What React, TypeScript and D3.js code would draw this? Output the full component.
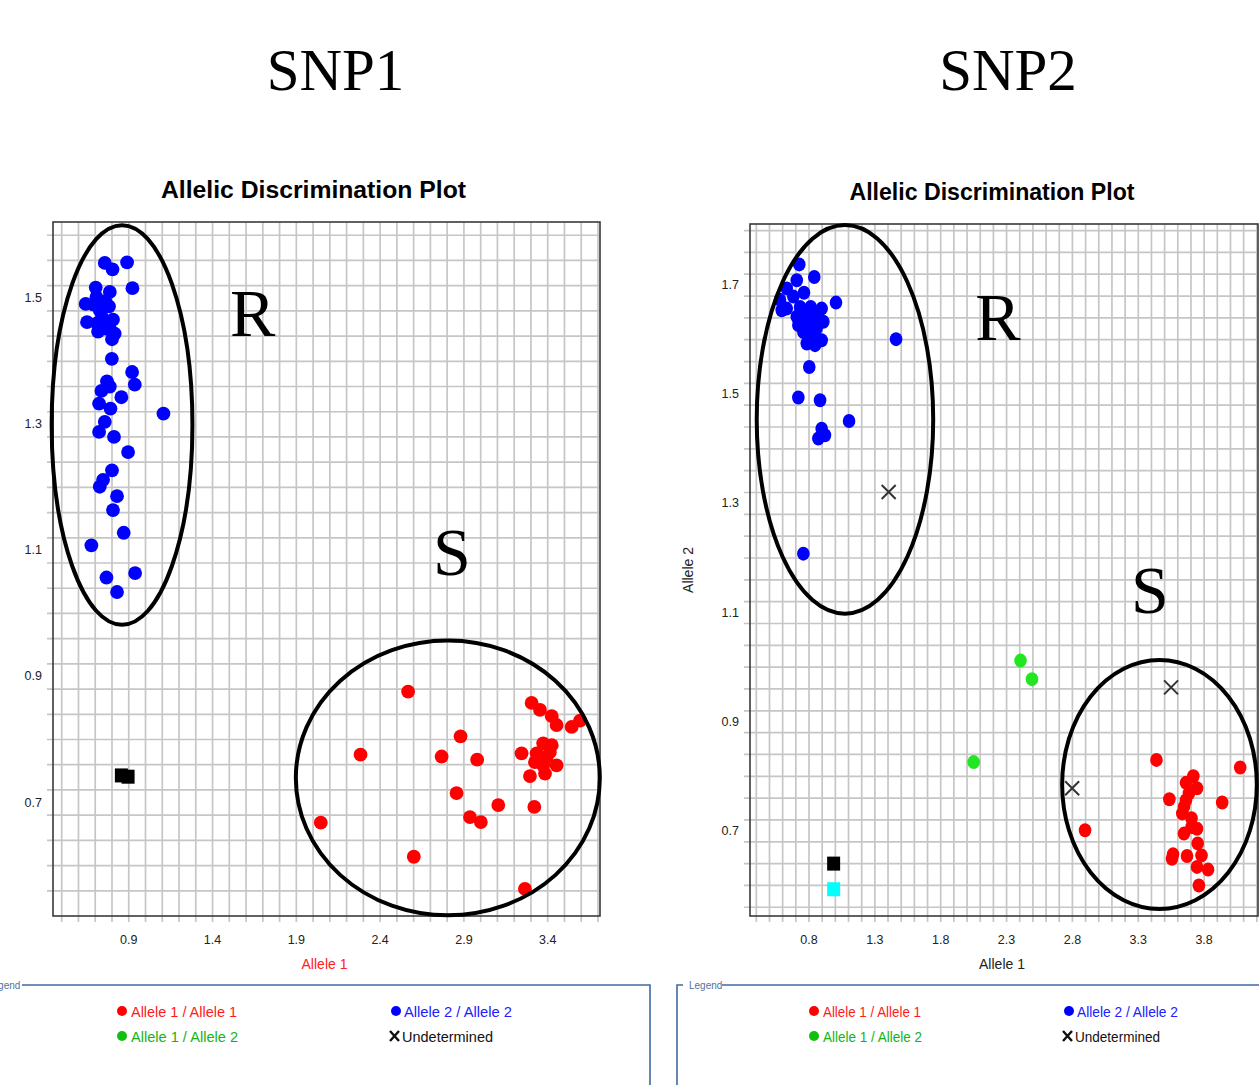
import * as d3 from "d3";

// ---- SNP1 readings (Allele 1, Allele 2) ----
const snp1Hom2: [number, number][] = [
  [0.757, 1.556], [0.803, 1.546], [0.89, 1.557], [0.922, 1.516], [0.703, 1.517],
  [0.787, 1.51], [0.643, 1.491], [0.707, 1.502], [0.782, 1.487], [0.727, 1.481],
  [0.651, 1.462], [0.806, 1.466], [0.717, 1.447], [0.763, 1.452], [0.816, 1.444],
  [0.8, 1.435], [0.747, 1.46], [0.69, 1.49], [0.76, 1.495], [0.74, 1.47],
  [0.79, 1.45], [0.71, 1.46], [0.799, 1.404], [0.92, 1.383], [0.936, 1.363],
  [0.77, 1.368], [0.737, 1.353], [0.787, 1.36], [0.856, 1.343], [0.723, 1.333],
  [0.791, 1.325], [1.107, 1.317], [0.757, 1.304], [0.723, 1.288], [0.812, 1.28],
  [0.896, 1.256], [0.8, 1.227], [0.747, 1.212], [0.727, 1.201], [0.83, 1.186],
  [0.806, 1.164], [0.87, 1.128], [0.677, 1.108], [0.767, 1.057], [0.83, 1.034],
  [0.938, 1.064],
];
const snp1Hom1: [number, number][] = [
  [2.567, 0.876], [2.283, 0.776], [2.046, 0.668], [2.601, 0.614], [2.88, 0.805],
  [2.767, 0.773], [2.979, 0.768], [2.856, 0.715], [2.936, 0.677], [3.001, 0.669],
  [3.105, 0.696], [3.32, 0.693], [3.264, 0.563], [3.304, 0.858], [3.354, 0.847],
  [3.424, 0.837], [3.453, 0.823], [3.543, 0.82], [3.593, 0.83], [3.244, 0.778],
  [3.373, 0.794], [3.424, 0.791], [3.334, 0.778], [3.394, 0.772], [3.324, 0.764],
  [3.373, 0.759], [3.453, 0.759], [3.294, 0.742], [3.384, 0.746], [3.413, 0.78],
];
const snp1Het: [number, number][] = [];
const snp1Undet: [number, number][] = [];
const snp1Ntc: [number, number][] = [[0.856, 0.743], [0.896, 0.741]];
const snp1Blank: [number, number][] = [];

// ---- SNP2 readings ----
const snp2Hom2: [number, number][] = [
  [0.726, 1.738], [0.84, 1.715], [0.707, 1.709], [0.631, 1.694], [0.58, 1.673],
  [0.762, 1.686], [0.681, 1.679], [0.593, 1.654], [0.631, 1.657], [1.005, 1.668],
  [0.732, 1.66], [0.813, 1.66], [0.896, 1.657], [0.707, 1.642], [0.77, 1.648],
  [0.846, 1.642], [0.909, 1.633], [0.719, 1.627], [0.795, 1.63], [0.858, 1.621],
  [0.757, 1.614], [0.821, 1.611], [0.896, 1.599], [0.783, 1.593], [0.846, 1.59],
  [1.461, 1.601], [0.802, 1.55], [0.719, 1.494], [0.884, 1.489], [1.104, 1.451],
  [0.896, 1.437], [0.921, 1.425], [0.871, 1.419], [0.757, 1.208],
];
const snp2Hom1: [number, number][] = [
  [3.438, 0.83], [4.074, 0.816], [2.896, 0.701], [3.536, 0.758], [3.937, 0.752],
  [3.718, 0.8], [3.662, 0.788], [3.746, 0.778], [3.685, 0.769], [3.662, 0.756],
  [3.647, 0.744], [3.634, 0.732], [3.704, 0.723], [3.746, 0.704], [3.647, 0.695],
  [3.751, 0.677], [3.704, 0.707], [3.564, 0.657], [3.556, 0.649], [3.67, 0.654],
  [3.78, 0.655], [3.746, 0.634], [3.83, 0.629], [3.76, 0.6],
];
const snp2Het: [number, number][] = [[2.406, 1.012], [2.493, 0.978], [2.05, 0.826]];
const snp2Undet: [number, number][] = [[1.405, 1.321], [3.549, 0.963], [2.798, 0.778]];
const snp2Ntc: [number, number][] = [[0.987, 0.64]];
const snp2Blank: [number, number][] = [[0.987, 0.593]];

// cluster rings drawn by hand on the figure (data units)
const snp1Rings = [
  { label: "R", cx: 0.86, cy: 1.299, rx: 0.42, ry: 0.317, lx: 1.64, ly: 1.44 },
  { label: "S", cx: 2.804, cy: 0.739, rx: 0.907, ry: 0.218, lx: 2.828, ly: 1.061 },
];
const snp2Rings = [
  { label: "R", cx: 1.073, cy: 1.454, rx: 0.67, ry: 0.356, lx: 2.235, ly: 1.599 },
  { label: "S", cx: 3.461, cy: 0.785, rx: 0.739, ry: 0.228, lx: 3.389, ly: 1.099 },
];

const snp1XLabels = ["0.9", "1.4", "1.9", "2.4", "2.9", "3.4"];
const snp1YLabels = ["0.7", "0.9", "1.1", "1.3", "1.5"];
const snp2XLabels = ["0.8", "1.3", "1.8", "2.3", "2.8", "3.3", "3.8"];
const snp2YLabels = ["0.7", "0.9", "1.1", "1.3", "1.5", "1.7"];

const legendItems = ["Allele 1 / Allele 1", "Allele 1 / Allele 2", "Allele 2 / Allele 2", "Undetermined"];

const SANS = "'Liberation Sans', Arial, sans-serif";
const SERIF = "'Liberation Serif', 'Times New Roman', serif";
const RED = "#ff0000";
const BLUE = "#0000ff";
const GREEN = "#22e622";

const steps = (a: number, b: number, s: number) =>
  d3.range(Math.round(a / s), Math.round(b / s) + 1).map((k) => +(k * s).toFixed(3));

type Pt = [number, number];

function Plot(props: {
  box: { x0: number; x1: number; y0: number; y1: number };
  xDomain: [number, number];
  yDomain: [number, number];
  xMinor: [number, number];
  yMinor: [number, number];
  xLabels: string[];
  yLabels: string[];
  hom1: Pt[]; hom2: Pt[]; het: Pt[]; undet: Pt[]; ntc: Pt[]; blank: Pt[];
  rings: typeof snp1Rings;
  dot: { rx: number; ry: number };
  xTitleColor: string;
  yTitle: boolean;
}) {
  const { box } = props;
  const x = d3.scaleLinear().domain(props.xDomain).range([box.x0, box.x1]);
  const y = d3.scaleLinear().domain(props.yDomain).range([box.y1, box.y0]);
  const vx = steps(props.xMinor[0], props.xMinor[1], 0.1);
  const hy = steps(props.yMinor[0], props.yMinor[1], 0.04);
  const dots = (pts: Pt[], fill: string) =>
    pts.map((p, i) => (
      <ellipse key={fill + i} cx={x(p[0])} cy={y(p[1])} rx={props.dot.rx} ry={props.dot.ry} fill={fill} />
    ));
  const squares = (pts: Pt[], fill: string) =>
    pts.map((p, i) => (
      <rect key={fill + i} x={x(p[0]) - 6.5} y={y(p[1]) - 7} width={13} height={14} fill={fill} />
    ));
  const cx = (box.x0 + box.x1) / 2;
  return (
    <g>
      <g stroke="#c6c6c6" strokeWidth={1.7}>
        {vx.map((v) => (
          <line key={"v" + v} x1={x(v)} x2={x(v)} y1={box.y0} y2={box.y1 + 6} />
        ))}
        {hy.map((v) => (
          <line key={"h" + v} x1={box.x0 - 6} x2={box.x1} y1={y(v)} y2={y(v)} />
        ))}
      </g>
      <rect x={box.x0} y={box.y0} width={box.x1 - box.x0} height={box.y1 - box.y0}
        fill="none" stroke="#3a3a3a" strokeWidth={1.6} />
      <g fontFamily={SANS} fontSize={12.5} fill="#222">
        {props.xLabels.map((t) => (
          <text key={"xl" + t} x={x(+t)} y={box.y1 + 28} textAnchor="middle">{t}</text>
        ))}
        {props.yLabels.map((t) => (
          <text key={"yl" + t} x={box.x0 - 11} y={y(+t) + 4} textAnchor="end">{t}</text>
        ))}
      </g>
      <text x={cx - 2} y={box.y1 + 53} textAnchor="middle"
        fontFamily={SANS} fontSize={14} fill={props.xTitleColor}>Allele 1</text>
      {props.yTitle && (
        <text transform={`translate(${box.x0 - 57},${(box.y0 + box.y1) / 2}) rotate(-90)`} textAnchor="middle"
          fontFamily={SANS} fontSize={14} fill="#222">Allele 2</text>
      )}
      {dots(props.hom2, BLUE)}
      {dots(props.hom1, RED)}
      {dots(props.het, GREEN)}
      {squares(props.ntc, "#000")}
      {squares(props.blank, "#00ffff")}
      <g stroke="#333" strokeWidth={2}>
        {props.undet.map((p, i) => (
          <path key={"u" + i}
            d={`M${x(p[0]) - 7},${y(p[1]) - 7}L${x(p[0]) + 7},${y(p[1]) + 7}M${x(p[0]) + 7},${y(p[1]) - 7}L${x(p[0]) - 7},${y(p[1]) + 7}`} />
        ))}
      </g>
      {props.rings.map((r) => (
        <g key={r.label}>
          <ellipse cx={x(r.cx)} cy={y(r.cy)} rx={x(r.cx + r.rx) - x(r.cx)} ry={y(r.cy - r.ry) - y(r.cy)}
            fill="none" stroke="#000" strokeWidth={4} />
          <text x={x(r.lx)} y={y(r.ly)} textAnchor="middle" fontFamily={SERIF} fontSize={68} fill="#000">
            {r.label}
          </text>
        </g>
      ))}
    </g>
  );
}

function Legend(props: { left: boolean }) {
  const L = props.left;
  // column anchors: dot centres of the two legend columns
  const c1 = L ? 122 : 814;
  const c2 = L ? 395 : 1068;
  const cross = (cx: number) =>
    `M${cx - 4.5},${1031}L${cx + 4.5},${1041}M${cx + 4.5},${1031}L${cx - 4.5},${1041}`;
  return (
    <g fontFamily={SANS}>
      {L ? (
        <>
          <text x={-13} y={989} fontSize={10} fill="#55729c">Legend</text>
          <polyline points={`22,985 650,985 650,1085`} fill="none" stroke="#3f6aa0" strokeWidth={1.6} />
        </>
      ) : (
        <>
          <polyline points={`683,985 677,985 677,1085`} fill="none" stroke="#3f6aa0" strokeWidth={1.6} />
          <text x={689} y={989} fontSize={10} fill="#55729c">Legend</text>
          <line x1={722} x2={1259} y1={985} y2={985} stroke="#3f6aa0" strokeWidth={1.6} />
        </>
      )}
      <g fontSize={14}>
        <circle cx={c1} cy={1011} r={5} fill={RED} />
        <text x={c1 + 9} y={1016.5} fill="#ff1a1a" textLength={L ? 106 : 98} lengthAdjust="spacingAndGlyphs">{legendItems[0]}</text>
        <circle cx={c1} cy={1036} r={5} fill="#10c010" />
        <text x={c1 + 9} y={1041.5} fill="#12b412" textLength={L ? 107 : 99} lengthAdjust="spacingAndGlyphs">{legendItems[1]}</text>
        <circle cx={c2 + 1} cy={1011} r={5} fill={BLUE} />
        <text x={c2 + 9} y={1016.5} fill="#2020ff" textLength={L ? 108 : 101} lengthAdjust="spacingAndGlyphs">{legendItems[2]}</text>
        <path d={cross(c2 - 0.5)} stroke="#111" strokeWidth={2.4} />
        <text x={c2 + 7} y={1041.5} fill="#111" textLength={L ? 91 : 85} lengthAdjust="spacingAndGlyphs">{legendItems[3]}</text>
      </g>
    </g>
  );
}

export default function App() {
  return (
    <svg width={1259} height={1085} style={{ position: "absolute", left: 0, top: 0, background: "#fff" }}>
      <rect width={1259} height={1085} fill="#fff" />
      <text x={335.5} y={90} textAnchor="middle" fontFamily={SERIF} fontSize={59}>SNP1</text>
      <text x={1008} y={90} textAnchor="middle" fontFamily={SERIF} fontSize={59}>SNP2</text>
      <text x={313.5} y={198} textAnchor="middle" fontFamily={SANS} fontWeight="bold" fontSize={23}
        textLength={305} lengthAdjust="spacingAndGlyphs">Allelic Discrimination Plot</text>
      <text x={992} y={200} textAnchor="middle" fontFamily={SANS} fontWeight="bold" fontSize={23}
        textLength={285} lengthAdjust="spacingAndGlyphs">Allelic Discrimination Plot</text>
      <Plot
        box={{ x0: 53, x1: 600, y0: 222, y1: 916 }}
        xDomain={[0.448, 3.712]}
        yDomain={[0.52, 1.621]}
        xMinor={[0.5, 3.7]}
        yMinor={[0.54, 1.58]}
        xLabels={snp1XLabels}
        yLabels={snp1YLabels}
        hom1={snp1Hom1} hom2={snp1Hom2} het={snp1Het} undet={snp1Undet} ntc={snp1Ntc} blank={snp1Blank}
        rings={snp1Rings}
        dot={{ rx: 6.9, ry: 6.9 }}
        xTitleColor="#ff2020"
        yTitle={false}
      />
      <Plot
        box={{ x0: 750, x1: 1258, y0: 224, y1: 916 }}
        xDomain={[0.352, 4.209]}
        yDomain={[0.544, 1.812]}
        xMinor={[0.4, 4.2]}
        yMinor={[0.58, 1.78]}
        xLabels={snp2XLabels}
        yLabels={snp2YLabels}
        hom1={snp2Hom1} hom2={snp2Hom2} het={snp2Het} undet={snp2Undet} ntc={snp2Ntc} blank={snp2Blank}
        rings={snp2Rings}
        dot={{ rx: 6.3, ry: 7 }}
        xTitleColor="#222"
        yTitle={true}
      />
      <Legend left={true} />
      <Legend left={false} />
    </svg>
  );
}
